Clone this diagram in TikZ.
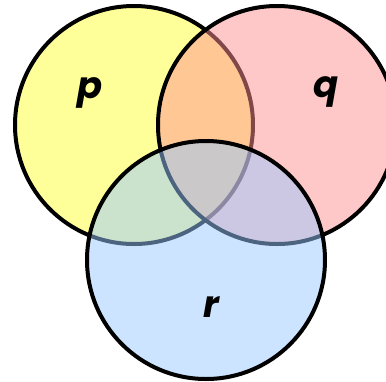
\documentclass[tikz,border=0pt]{standalone}
\usepackage{fontspec}
\setsansfont{Poppins}
\usepackage{tikz}

\definecolor{setp}{RGB}{255,255,153}
\definecolor{setq}{RGB}{255,145,145}
\definecolor{setr}{RGB}{153,201,255}

\tikzset{
  ensemble/.style={circle, draw=black, line width=4pt, minimum size=238pt, inner sep=0pt},
  etiquette/.style={anchor=base, font=\sffamily\bfseries\itshape\fontsize{37}{37}\selectfont}
}

\begin{document}
\begin{tikzpicture}[x=1pt, y=-1pt]

\useasboundingbox (0,0) rectangle (386,381);

%% Les trois ensembles.

\node[ensemble, fill=setp] (P) at (134,125) {};
\node[ensemble, fill=setq, fill opacity=.5, draw opacity=1] (Q) at (277,125) {};
\node[ensemble, fill=setr, fill opacity=.5, draw opacity=1] (R) at (206,260) {};

%% Nom des ensembles.

\node[etiquette] (lp) at (90,98) {p};
\node[etiquette] (lq) at (326,97) {q};
\node[etiquette] (lr) at (211,317) {r};

\end{tikzpicture}
\end{document}
